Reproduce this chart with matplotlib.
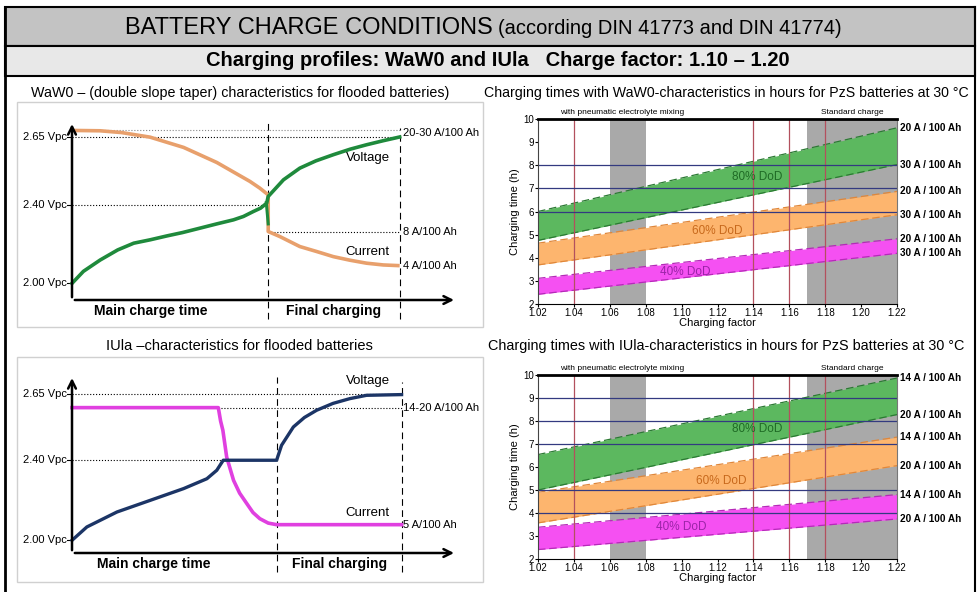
import matplotlib
matplotlib.use("Agg")
import matplotlib.pyplot as plt
from matplotlib.patches import Rectangle

plt.rcParams['font.family'] = ['Liberation Sans Narrow', 'Liberation Sans', 'DejaVu Sans']

W, H = 979, 592

# ---------------- left schematics (arbitrary units 0..100) ----------------
waw0_volt_x = [0, 3, 7.4, 12, 16.2, 20.5, 24.9, 29, 33.6, 38, 42.4, 45, 47.6, 49.5, 51.1, 51.5,
               55.5, 59.8, 64, 68.6, 73, 77.3, 81.7, 86]
waw0_volt_y = [9.4, 16.2, 22.6, 28.3, 32.1, 34, 36.2, 38.1, 40.6, 43, 45.3, 47.2, 50, 51.9, 54.7, 58.5,
               67.9, 74.5, 78.6, 82.1, 85.2, 87.7, 90, 92.1]
waw0_tail_x = [51.0, 51.5]
waw0_tail_y = [55.0, 43.0]
waw0_curr_x = [0, 7.4, 13, 20.5, 29.3, 38, 46.7, 49.3, 51.5, 51.5, 54.6, 59.8, 64.2, 68.6, 72.9,
               77.3, 81.7, 86]
waw0_curr_y = [95.8, 95.6, 94.6, 92, 86.2, 77.7, 67, 63.2, 59.4, 38.7, 35.8, 30.2, 27.4, 24.5, 22.5,
               20.8, 19.8, 19.4]
waw0_ticks = [92.1, 53.8, 9.4]
waw0_switch, waw0_end = 51.5, 86
waw0_ref_top, waw0_ref_low = 95.8, 38.7
waw0_right_labels = ["20-30 A/100 Ah", "8 A/100 Ah", "4 A/100 Ah"]
waw0_right_y = [94.5, 38.7, 19.4]

iula_volt_x = [0, 3.9, 11.8, 20.5, 29.3, 35.4, 38, 39.7, 53.7, 55, 58.1, 61, 64.2, 68.5, 72.9,
               77.3, 86.5]
iula_volt_y = [7.2, 14.8, 23.3, 29.9, 36.6, 42.2, 47, 52.7, 52.7, 61.2, 71.6, 77, 81.1, 85, 87.7,
               89.6, 90]
iula_curr_x = [0, 38.4, 39.0, 39.6, 40.6, 42.4, 44, 45.9, 47.5, 49.3, 51.5, 53.7, 86.5]
iula_curr_y = [82.6, 82.6, 75, 69.7, 54.5, 41.3, 34, 28, 23, 19.5, 17, 16.1, 16.1]
iula_ticks = [90.5, 52.7, 7.2]
iula_switch, iula_end = 53.7, 86.5
iula_ref_top = 82.6
iula_right_labels = ["14-20 A/100 Ah", "5 A/100 Ah"]
iula_right_y = [82.6, 16.1]

vpc_labels = ["2.65 Vpc", "2.40 Vpc", "2.00 Vpc"]

# ---------------- right charts: charging time bands ----------------
cf = [1.02, 1.22]
cf_ticks = [1.02, 1.04, 1.06, 1.08, 1.10, 1.12, 1.14, 1.16, 1.18, 1.20, 1.22]
cf_ticklabels = ["1.02", "1.04", "1.06", "1.08", "1.10", "1.12", "1.14", "1.16", "1.18", "1.20", "1.22"]
red_lines = [1.04, 1.14, 1.16, 1.18]
gray_spans = [(1.06, 1.08), (1.17, 1.22)]
dod_labels = ["80% DoD", "60% DoD", "40% DoD"]

waw0_bands = {
    "80": ([6.0, 9.62], [4.75, 8.03]),
    "60": ([4.63, 6.87], [3.69, 5.86]),
    "40": ([3.11, 4.82], [2.42, 4.19]),
}
waw0_hlines = [6, 7, 8]
waw0_amp = ["20 A / 100 Ah", "30 A / 100 Ah"] * 3

iula_bands = {
    "80": ([6.54, 9.87], [5.0, 8.28]),
    "60": ([4.9, 7.3], [3.57, 6.06]),
    "40": ([3.38, 4.8], [2.41, 3.74]),
}
iula_hlines = [4, 5, 7, 8, 9]
iula_amp = ["14 A / 100 Ah", "20 A / 100 Ah"] * 3

band_fill = {"80": "#5cb85f", "60": "#fdb56e", "40": "#f550f2"}
band_edge = {"80": "#2b7a33", "60": "#e0873a", "40": "#b52ab8"}
band_text = {"80": "#1f6b25", "60": "#c8691c", "40": "#9b24a8"}
dod_pos_waw0 = [(1.142, 7.5), (1.120, 5.16), (1.102, 3.38)]
dod_pos_iula = [(1.142, 7.65), (1.122, 5.39), (1.100, 3.39)]

fig = plt.figure(figsize=(W / 100, H / 100), dpi=100)

# background axes in pixel coordinates
bg = fig.add_axes([0, 0, 1, 1])
bg.set_xlim(0, W)
bg.set_ylim(H, 0)
bg.axis("off")
bg.add_patch(Rectangle((5, 7), 970, 39, facecolor="#c3c3c3", edgecolor="black", lw=1.5))
bg.add_patch(Rectangle((5, 46), 970, 30, facecolor="#e8e8e8", edgecolor="black", lw=1.5))
bg.plot([5, 5], [7, H], color="black", lw=2)
bg.plot([975, 975], [7, H], color="black", lw=1.5)
bg.add_patch(Rectangle((17, 102), 466, 225, facecolor="white", edgecolor="#d0d0d0", lw=1))
bg.add_patch(Rectangle((17, 357), 466, 225, facecolor="white", edgecolor="#d0d0d0", lw=1))
bg.text(493, 28, "BATTERY CHARGE CONDITIONS", ha="right", va="center", fontsize=17)
bg.text(498, 29, "(according DIN 41773 and DIN 41774)", ha="left", va="center", fontsize=14.5)
bg.text(498, 61, "Charging profiles: WaW0 and IUla   Charge factor: 1.10 \u2013 1.20",
        ha="center", va="center", fontsize=14.5, fontweight="bold")
bg.text(240, 93, "WaW0 \u2013 (double slope taper) characteristics for flooded batteries)",
        ha="center", va="center", fontsize=10.3)
bg.text(239, 346, "IUla \u2013characteristics for flooded batteries", ha="center", va="center", fontsize=10.5)
bg.text(726, 93, "Charging times with WaW0-characteristics in hours for PzS batteries at 30 \u00b0C",
        ha="center", va="center", fontsize=10.2)
bg.text(726, 346, "Charging times with IUla-characteristics in hours for PzS batteries at 30 \u00b0C",
        ha="center", va="center", fontsize=10.4)


def px_axes(rect, origin, unit):
    """rect=(l, t, r, b) px; origin px of data (0,0); unit=(px per x, px per y)."""
    l, t, r, b = rect
    ax = fig.add_axes([l / W, 1 - b / H, (r - l) / W, (b - t) / H])
    ax.set_xlim((l - origin[0]) / unit[0], (r - origin[0]) / unit[0])
    ax.set_ylim((origin[1] - b) / unit[1], (origin[1] - t) / unit[1])
    ax.axis("off")
    return ax


def schematic(ax, ticks, switch, end):
    ax.annotate("", xy=(101, 0), xytext=(0, 0),
                arrowprops=dict(arrowstyle="->", lw=1.8, color="black", mutation_scale=14))
    ax.annotate("", xy=(0, 101), xytext=(0, 0),
                arrowprops=dict(arrowstyle="->", lw=1.8, color="black", mutation_scale=14))
    for y, lab in zip(ticks, vpc_labels):
        ax.plot([-1.2, 0], [y, y], color="black", lw=0.8)
        ax.text(-1.4, y, lab, ha="right", va="center", fontsize=8)
    ax.plot([switch, switch], [-11, 100], color="black", lw=0.8, ls=(0, (6, 4)))
    ax.plot([end, end], [-11, 97], color="black", lw=0.8, ls=(0, (6, 4)))
    ax.text(switch * 0.4, -6, "Main charge time", ha="center", va="center", fontsize=10, fontweight="bold")
    ax.text((switch + end) / 2, -6, "Final charging", ha="center", va="center", fontsize=10, fontweight="bold")


# WaW0 schematic
ax1 = px_axes((17, 112, 483, 327), (72, 300), (3.81, 1.77))
schematic(ax1, waw0_ticks, waw0_switch, waw0_end)
ax1.plot([0, waw0_end], [waw0_ref_top, waw0_ref_top], color="#888888", lw=0.8, ls=":")
ax1.plot([0, waw0_end], [waw0_ticks[0], waw0_ticks[0]], color="black", lw=0.8, ls=":")
ax1.plot([0, waw0_switch], [waw0_ticks[1], waw0_ticks[1]], color="black", lw=0.8, ls=":")
ax1.plot([waw0_switch, waw0_end], [waw0_ref_low, waw0_ref_low], color="black", lw=0.8, ls=":")
ax1.plot(waw0_curr_x, waw0_curr_y, color="#e8a06c", lw=2.6, solid_capstyle="butt")
ax1.plot(waw0_tail_x, waw0_tail_y, color="#1f8a3c", lw=2.2)
ax1.plot(waw0_volt_x, waw0_volt_y, color="#1f8a3c", lw=2.6)
ax1.text(77.6, 80, "Voltage", ha="center", va="center", fontsize=9.5)
ax1.text(77.6, 27, "Current", ha="center", va="center", fontsize=9.5)
for y, lab in zip(waw0_right_y, waw0_right_labels):
    ax1.text(87, y, lab, ha="left", va="center", fontsize=8)

# IUla schematic
ax2 = px_axes((17, 362, 483, 582), (72, 553), (3.81, 1.76))
schematic(ax2, iula_ticks, iula_switch, iula_end)
ax2.plot([0, iula_end], [iula_ticks[0], iula_ticks[0]], color="black", lw=0.8, ls=":")
ax2.plot([iula_curr_x[1], iula_end], [iula_ref_top, iula_ref_top], color="black", lw=0.8, ls=":")
ax2.plot([0, iula_volt_x[7]], [iula_ticks[1], iula_ticks[1]], color="black", lw=0.8, ls=":")
ax2.plot(iula_curr_x, iula_curr_y, color="#e040e0", lw=2.6)
ax2.plot(iula_volt_x, iula_volt_y, color="#1c3566", lw=2.4)
ax2.text(77.6, 98, "Voltage", ha="center", va="center", fontsize=9.5)
ax2.text(77.6, 22.7, "Current", ha="center", va="center", fontsize=9.5)
for y, lab in zip(iula_right_y, iula_right_labels):
    ax2.text(87, y, lab, ha="left", va="center", fontsize=8)


def time_chart(rect, bands, hlines, amp, dod_pos):
    l, t, r, b = rect
    ax = fig.add_axes([l / W, 1 - b / H, (r - l) / W, (b - t) / H])
    ax.set_xlim(cf[0], cf[1])
    ax.set_ylim(2, 10)
    for a, c in gray_spans:
        ax.axvspan(a, c, color="#a9a9a9", lw=0, zorder=1)
    labels_y = []
    for key, lab, pos in zip(["80", "60", "40"], dod_labels, dod_pos):
        upper, lower = bands[key]
        ax.fill_between(cf, upper, lower, color=band_fill[key], lw=0, zorder=2)
        ax.plot(cf, upper, color=band_edge[key], lw=0.9, ls=(0, (6, 3)), zorder=3)
        ax.plot(cf, lower, color=band_edge[key], lw=0.9, ls=(0, (6, 3)), zorder=3)
        ax.text(pos[0], pos[1], lab, ha="center", va="center", fontsize=8.5, color=band_text[key], zorder=5)
        labels_y += [upper[1], lower[1]]
    for x in red_lines:
        ax.axvline(x, color="#b3505e", lw=0.9, zorder=4)
    for y in hlines:
        ax.axhline(y, color="#333a80", lw=0.9, zorder=4)
    for y, lab in zip(labels_y, amp):
        ax.text(1.2215, y, lab, ha="left", va="center", fontsize=7.2, fontweight="bold", zorder=5)
    ax.text(1.067, 10.12, "with pneumatic electrolyte mixing", ha="center", va="bottom", fontsize=6)
    ax.text(1.195, 10.12, "Standard charge", ha="center", va="bottom", fontsize=6)
    ax.set_xticks(cf_ticks)
    ax.set_xticklabels(cf_ticklabels)
    ax.set_yticks(range(2, 11))
    ax.tick_params(labelsize=7, length=2, pad=1)
    ax.set_xlabel("Charging factor", fontsize=8, labelpad=0)
    ax.set_ylabel("Charging time (h)", fontsize=8, labelpad=2)
    ax.spines["top"].set_linewidth(2)
    ax.spines["right"].set_color("#777777")
    ax.spines["left"].set_color("#444444")
    for s in ax.spines.values():
        s.set_zorder(6)
    return ax


time_chart((538, 119, 897, 304), waw0_bands, waw0_hlines, waw0_amp, dod_pos_waw0)
time_chart((538, 375, 897, 559), iula_bands, iula_hlines, iula_amp, dod_pos_iula)

fig.savefig("out.png", dpi=100)
